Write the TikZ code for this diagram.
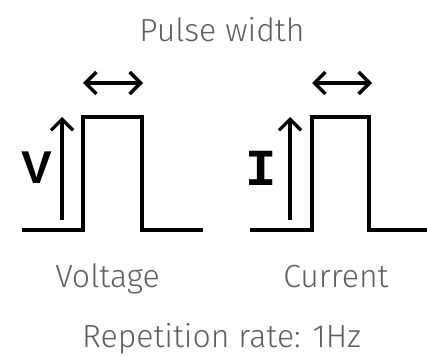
\documentclass[tikz,border=0pt]{standalone}
\usepackage{fontspec}
\setmainfont{Fira Sans Light}
\newfontfamily\symbfont{Liberation Sans}
\newfontfamily\monofont{Liberation Mono}
\usetikzlibrary{arrows.meta}

\definecolor{labelgray}{HTML}{606060}

\tikzset{
  wave/.style={line width=4.3pt, line join=miter},
  barb/.style={line width=3.5pt, {Straight Barb[length=11pt,width=22pt,line width=3.5pt]}-{Straight Barb[length=11pt,width=22pt,line width=3.5pt]}},
  upbarb/.style={line width=3.2pt, -{Straight Barb[length=11pt,width=22pt,line width=3.2pt]}},
  caption/.style={font=\fontsize{32}{38}\selectfont, text=labelgray, inner sep=0pt, anchor=base}
}

\begin{document}
\begin{tikzpicture}[x=1pt,y=-1pt]

  \useasboundingbox (0,0) rectangle (427,363);

  % Title above the two pulses
  \node[caption] (title) at (222,42) {Pulse width};

  % Voltage pulse
  \coordinate (v0) at (22,230);
  \coordinate (v1) at (83,230);
  \coordinate (v2) at (83,117);
  \coordinate (v3) at (142,117);
  \coordinate (v4) at (142,230);
  \coordinate (v5) at (203,230);
  \draw[wave] (v0) -- (v1) -- (v2) -- (v3) -- (v4) -- (v5);

  % Voltage amplitude arrow and width arrow
  \coordinate (va) at (62,220);
  \coordinate (vb) at (62,117);
  \draw[upbarb] (va) -- (vb);
  \node[font=\symbfont\bfseries\fontsize{46}{50}\selectfont, inner sep=0pt] (vlabel) at (37,168) {V};
  \coordinate (vl) at (83,83);
  \coordinate (vr) at (143,83);
  \draw[barb] (vl) -- (vr);

  % Current pulse
  \coordinate (i0) at (250,230);
  \coordinate (i1) at (312,230);
  \coordinate (i2) at (312,117);
  \coordinate (i3) at (369,117);
  \coordinate (i4) at (369,230);
  \coordinate (i5) at (427,230);
  \draw[wave] (i0) -- (i1) -- (i2) -- (i3) -- (i4) -- (i5);

  % Current amplitude arrow and width arrow
  \coordinate (ia) at (290,220);
  \coordinate (ib) at (290,117);
  \draw[upbarb] (ia) -- (ib);
  \node[font=\monofont\bfseries\fontsize{52}{56}\selectfont, inner sep=0pt] (ilabel) at (261.5,168) {I};
  \coordinate (il) at (312,83);
  \coordinate (ir) at (372,83);
  \draw[barb] (il) -- (ir);

  % Captions below
  \node[caption] (voltage) at (107.5,287) {Voltage};
  \node[caption] (current) at (336,287) {Current};
  \node[caption] (rate) at (221.5,347) {Repetition rate: 1Hz};

\end{tikzpicture}
\end{document}
